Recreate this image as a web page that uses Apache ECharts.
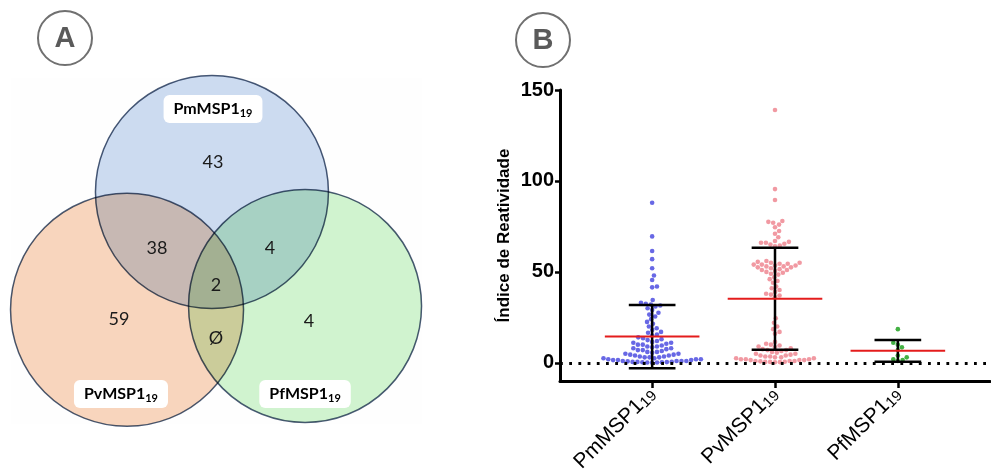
<!DOCTYPE html>
<html>
<head>
<meta charset="utf-8">
<script src="https://cdn.jsdelivr.net/npm/echarts@6/dist/echarts.min.js"></script>
<style>
  html, body { margin: 0; padding: 0; background: #fff; }
  #chart { width: 991px; height: 470px; }
</style>
</head>
<body>
<div id="chart"></div>
<script>
// ---- panel A : Venn of positive samples ----
const setNames = ['PmMSP1', 'PvMSP1', 'PfMSP1'];
const setSub = '19';
// Pm only, Pm∩Pv, Pm∩Pf, all three, Pv only, Pf only, Pv∩Pf
const regionCounts = ['43', '38', '4', '2', '59', '4', 'Ø'];

// ---- panel B : reactivity index per antigen ----
const antigens = ['PmMSP1', 'PvMSP1', 'PfMSP1'];
const pmValues = [
  88, 69.5, 61.5, 57, 52, 48, 45.5, 42, 41.5, 34.5,
  33, 32.5, 32, 31.5, 31, 30, 29, 27.5, 26.5, 25.5,
  24, 22.5, 21.5, 20, 19, 18, 17, 16.5, 15.5, 15,
  14, 13.5, 13, 12.5, 12, 11.5, 11, 11, 10.5, 10,
  10, 9.5, 9, 9, 8.5, 8, 8, 7.5, 7, 7,
  6.5, 6, 6, 5.5, 5, 5, 4.5, 4.5, 4, 4,
  3.5, 3.5, 3, 3, 3, 2.5, 2.5, 2, 2, 2,
  1.5, 1.5, 1.5, 1, 1, 1, 1, 0.8, 0.6, 0.5,
  0.5, 0.4, 0.3, 0.3, 0.2, 0.2, 0.1
];
const pvValues = [
  139, 95.5, 89.5, 78, 77.5, 77, 76, 74.5, 72.5, 71,
  69, 67, 66.5, 66, 66, 65.5, 65, 64.5, 64, 56,
  55.5, 55, 55, 54.5, 54.5, 54, 54, 53.5, 53.5, 53,
  53, 52.5, 52.5, 52, 51.5, 51, 51, 50.5, 50, 49.5,
  49, 48.5, 47, 46, 45, 44, 42, 41, 40, 39,
  38, 37.5, 37, 36, 24.5, 22, 20, 18.5, 17, 16,
  11.5, 10.5, 10, 9.5, 9, 8.5, 8, 7.5, 7, 7,
  6.5, 6, 5.5, 5, 5, 4.5, 4, 4, 3.5, 3.5,
  3, 3, 2.5, 2.5, 2, 2, 2, 1.5, 1.5, 1.5,
  1, 1, 1, 0.8, 0.6, 0.5, 0.5, 0.4, 0.3
];
const pfValues = [18.5, 11, 10, 8.5, 7, 4, 3, 2, 1.5, 1];
const groupMeans = [14.4, 35.2, 6.6];
const groupSD = [17.4, 28.0, 6.0];
const yTicks = [0, 50, 100, 150];

// Venn layout, in circle-radius units
const vennCenters = [[1.725, 0.979], [0.996, 1.99], [2.524, 1.957]];
const vennFills = ['#cddcf1', '#f9d6be', '#d1f4d0'];
const regionPos = [[1.734, 0.721], [1.253, 1.459], [2.223, 1.459], [1.760, 1.777],
                   [0.927, 2.069], [2.558, 2.086], [1.760, 2.232]];
const setLabelPos = [[1.734, 0.266], [0.944, 2.712], [2.524, 2.712]];

const dotColors = ['#5858e2', '#ef8e98', '#2fa82f'];
const groups = [pmValues, pvValues, pfValues];

const chart = echarts.init(document.getElementById('chart'));

const subRich = (size, sub, font, weight, lh) => ({
  a: { fontSize: size, fontFamily: font, fontWeight: weight, color: '#000', lineHeight: lh },
  b: { fontSize: sub, fontFamily: font, fontWeight: weight, color: '#000', lineHeight: sub, verticalAlign: 'bottom' }
});

chart.setOption({
  backgroundColor: '#fff',
  animation: false,
  grid: [
    { left: 11, top: 78, width: 411, height: 346, show: true, backgroundColor: '#fefefe', borderWidth: 0, outerBoundsMode: 'none' },
    { left: 560, top: 90, right: 1, bottom: 89, outerBoundsMode: 'none' }
  ],
  xAxis: [
    { gridIndex: 0, type: 'value', min: 0, max: 3.528, show: false },
    {
      gridIndex: 1, type: 'value', min: 0.25, max: 3.75,
      splitLine: { show: false },
      axisLine: { show: true, onZero: false, lineStyle: { color: '#000', width: 3 } },
      axisTick: { show: true, customValues: [1, 2, 3], length: 7, lineStyle: { color: '#000', width: 2.5 } },
      axisLabel: {
        customValues: [1, 2, 3], rotate: 45, margin: 10,
        formatter: v => '{a|' + antigens[Math.round(v) - 1] + '}{b|19}',
        rich: subRich(21, 15, 'Liberation Sans', 'normal', 22)
      }
    }
  ],
  yAxis: [
    { gridIndex: 0, type: 'value', min: 0, max: 2.97, inverse: true, show: false },
    {
      gridIndex: 1, type: 'value', min: -10, max: 150,
      splitLine: { show: false },
      name: 'Índice de Reatividade', nameLocation: 'middle', nameGap: 47,
      nameTextStyle: { fontFamily: 'Liberation Sans', fontWeight: 'bold', fontSize: 17, color: '#000' },
      axisLine: { show: true, lineStyle: { color: '#000', width: 3 } },
      axisTick: { show: true, customValues: yTicks, length: 5, lineStyle: { color: '#000', width: 2.5 } },
      axisLabel: { customValues: yTicks, margin: 6, fontFamily: 'Liberation Sans', fontWeight: 'bold', fontSize: 20, color: '#000' }
    }
  ],
  graphic: [
    { type: 'circle', shape: { cx: 65, cy: 38, r: 27 }, style: { fill: '#fff', stroke: '#707070', lineWidth: 2 } },
    { type: 'text', x: 65, y: 39, style: { text: 'A', font: 'bold 29px "Liberation Sans"', fill: '#5a5a5a', align: 'center', verticalAlign: 'middle' } },
    { type: 'circle', shape: { cx: 543, cy: 40, r: 27 }, style: { fill: '#fff', stroke: '#707070', lineWidth: 2 } },
    { type: 'text', x: 543, y: 41, style: { text: 'B', font: 'bold 29px "Liberation Sans"', fill: '#5a5a5a', align: 'center', verticalAlign: 'middle' } }
  ],
  series: [
    {
      type: 'custom', xAxisIndex: 0, yAxisIndex: 0, silent: true, blendMode: 'multiply',
      data: vennCenters.map((c, i) => [c[0], c[1], i]),
      renderItem: (params, api) => {
        const c = api.coord([api.value(0), api.value(1)]);
        const r = api.size([1, 1])[0];
        return {
          type: 'circle', shape: { cx: c[0], cy: c[1], r: r },
          style: { fill: vennFills[api.value(2)], stroke: '#4a5b77', lineWidth: 1.5 }
        };
      }
    },
    {
      type: 'custom', xAxisIndex: 0, yAxisIndex: 0, silent: true, z: 3,
      data: regionPos.map((p, i) => [p[0], p[1], i]),
      renderItem: (params, api) => {
        const c = api.coord([api.value(0), api.value(1)]);
        return {
          type: 'text', x: c[0], y: c[1],
          style: { text: regionCounts[api.value(2)], font: '18px Lato', fill: '#1a1a1a', align: 'center', verticalAlign: 'middle' }
        };
      }
    },
    {
      type: 'custom', xAxisIndex: 0, yAxisIndex: 0, silent: true, z: 3,
      data: setLabelPos.map((p, i) => [p[0], p[1], i]),
      renderItem: (params, api) => {
        const c = api.coord([api.value(0), api.value(1)]);
        return {
          type: 'text', x: c[0], y: c[1],
          style: {
            text: '{a|' + setNames[api.value(2)] + '}{b|' + setSub + '}',
            rich: subRich(16, 11, 'Lato', 'bold', 20),
            backgroundColor: '#fff', borderRadius: 6, padding: [4, 10, 4, 10],
            align: 'center', verticalAlign: 'middle'
          }
        };
      }
    },
    ...groups.map((g, i) => ({
      id: 'dots' + i, type: 'scatter', xAxisIndex: 1, yAxisIndex: 1, z: 2,
      symbolSize: 4.6, itemStyle: { color: dotColors[i], opacity: 0.9 }, data: []
    })),
    {
      type: 'custom', xAxisIndex: 1, yAxisIndex: 1, z: 5, silent: true,
      data: groupMeans.map((m, i) => [i + 1, m, groupSD[i]]),
      renderItem: (params, api) => {
        const x = api.value(0), m = api.value(1), sd = api.value(2);
        const top = api.coord([x, m + sd]), bot = api.coord([x, m - sd]), mid = api.coord([x, m]);
        const capW = api.size([0.19, 0])[0], meanW = api.size([0.385, 0])[0];
        const blk = { stroke: '#000', lineWidth: 2.5 };
        return {
          type: 'group', children: [
            { type: 'line', shape: { x1: top[0], y1: top[1], x2: bot[0], y2: bot[1] }, style: blk },
            { type: 'line', shape: { x1: top[0] - capW, y1: top[1], x2: top[0] + capW, y2: top[1] }, style: blk },
            { type: 'line', shape: { x1: bot[0] - capW, y1: bot[1], x2: bot[0] + capW, y2: bot[1] }, style: blk },
            { type: 'line', shape: { x1: mid[0] - meanW, y1: mid[1], x2: mid[0] + meanW, y2: mid[1] }, style: { stroke: '#e41c1c', lineWidth: 2 } }
          ]
        };
      },
      markLine: {
        silent: true, symbol: 'none', label: { show: false },
        lineStyle: { color: '#000', width: 2.8, type: [2.8, 6.4] },
        data: [{ yAxis: 0 }]
      }
    }
  ]
});

// simple beeswarm: place each dot at the smallest horizontal offset free of overlap
function swarm(values, center, diam) {
  const cx = chart.convertToPixel({ gridIndex: 1 }, [center, 0])[0];
  const order = values.map((v, i) => i).sort((a, b) => values[a] - values[b]);
  const placed = [];
  const out = [];
  order.forEach(i => {
    const py = chart.convertToPixel({ gridIndex: 1 }, [center, values[i]])[1];
    const near = placed.filter(p => Math.abs(p[1] - py) < diam);
    const cands = [0];
    near.forEach(p => {
      const dx = Math.sqrt(diam * diam - (p[1] - py) * (p[1] - py));
      cands.push(p[0] + dx, p[0] - dx);
    });
    cands.sort((a, b) => Math.abs(a) - Math.abs(b));
    let off = 0;
    for (const c of cands) {
      if (near.every(p => (p[0] - c) ** 2 + (p[1] - py) ** 2 >= diam * diam - 0.01)) { off = c; break; }
    }
    placed.push([off, py]);
    const xv = chart.convertFromPixel({ gridIndex: 1 }, [cx + off, py])[0];
    out.push([xv, values[i]]);
  });
  return out;
}

chart.setOption({
  series: groups.map((g, i) => ({ id: 'dots' + i, data: swarm(g, i + 1, 4.9) }))
});
</script>
</body>
</html>
